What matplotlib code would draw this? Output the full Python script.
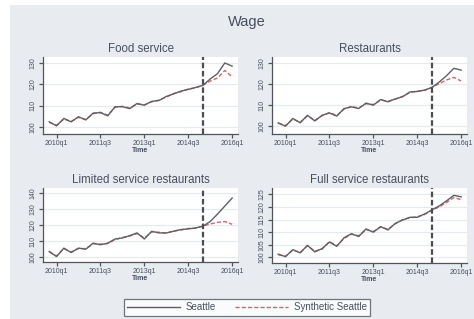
import matplotlib
matplotlib.use("Agg")
import matplotlib.pyplot as plt
from matplotlib.patches import Rectangle
from matplotlib.lines import Line2D

# ---------------- data ----------------
quarters = ["2009q4",
            "2010q1", "2010q2", "2010q3", "2010q4",
            "2011q1", "2011q2", "2011q3", "2011q4",
            "2012q1", "2012q2", "2012q3", "2012q4",
            "2013q1", "2013q2", "2013q3", "2013q4",
            "2014q1", "2014q2", "2014q3", "2014q4",
            "2015q1", "2015q2", "2015q3", "2015q4",
            "2016q1"]
tick_labels = ["2010q1", "2011q3", "2013q1", "2014q3", "2016q1"]
treat_quarter = "2015q1"

food_seattle = [102.4, 100.5, 104.0, 102.4, 104.8, 103.3, 106.5, 106.7, 105.2, 109.5,
                109.5, 108.6, 111.0, 110.2, 112.0, 112.4, 114.3, 115.5, 116.8, 117.6,
                118.5, 119.5, 122.5, 125.0, 130.0, 128.5]
food_synth = [102.2, 100.8, 103.7, 102.6, 104.5, 103.5, 106.2, 106.9, 105.5, 109.2,
              109.7, 108.9, 110.7, 110.4, 111.8, 112.6, 114.0, 115.7, 116.5, 117.8,
              118.3, 119.6, 121.5, 123.0, 126.5, 123.5]

rest_seattle = [101.6, 100.0, 103.7, 101.6, 105.2, 102.5, 105.2, 106.3, 104.8, 108.4,
                109.2, 108.4, 111.0, 110.0, 112.7, 111.6, 113.0, 114.0, 116.3, 116.5,
                117.2, 118.4, 121.0, 124.0, 127.5, 126.7]
rest_synth = [101.4, 100.3, 103.4, 101.9, 104.9, 102.8, 105.0, 106.5, 105.1, 108.1,
              109.4, 108.7, 110.7, 110.3, 112.4, 111.9, 112.8, 114.2, 116.0, 116.7,
              117.0, 118.5, 120.2, 122.0, 123.2, 121.5]

lim_seattle = [103.6, 100.4, 105.7, 102.9, 105.7, 105.0, 108.8, 107.8, 108.8, 111.4,
               112.0, 113.5, 115.2, 111.4, 116.2, 115.2, 115.2, 116.2, 117.3, 117.7,
               118.3, 119.4, 122.3, 127.0, 132.0, 137.0]
lim_synth = [103.3, 100.8, 105.3, 103.3, 105.4, 105.4, 108.4, 108.2, 108.5, 111.0,
             112.4, 113.2, 114.8, 112.0, 115.8, 115.6, 115.0, 116.5, 117.0, 118.0,
             118.1, 119.5, 120.8, 121.8, 122.3, 120.6]

full_seattle = [101.3, 100.3, 103.1, 101.8, 104.8, 102.2, 103.5, 106.1, 104.4, 107.8,
                109.4, 108.3, 111.3, 110.0, 112.2, 110.9, 113.5, 114.8, 115.9, 115.9,
                117.2, 118.8, 120.4, 122.4, 124.6, 124.0]
full_synth = [101.1, 100.5, 102.9, 102.0, 104.6, 102.5, 103.3, 106.3, 104.6, 107.5,
              109.2, 108.6, 111.0, 110.3, 112.0, 111.2, 113.3, 115.0, 115.7, 116.1,
              117.0, 118.7, 120.0, 121.8, 123.7, 122.9]

panel_titles = ["Food service", "Restaurants", "Limited service restaurants", "Full service restaurants"]
food_yticks = [100, 110, 120, 130]
rest_yticks = [100, 110, 120, 130]
lim_yticks = [100, 110, 120, 130, 140]
full_yticks = [100, 105, 110, 115, 120, 125]

# ---------------- style ----------------
W, H = 474, 319
BG = "#e8ecf1"
TXT = "#474f5e"
SEA = "#5c6064"
SYN = "#d4646c"
FONT = ["Liberation Sans", "DejaVu Sans"]
plt.rcParams["font.family"] = FONT

fig = plt.figure(figsize=(W / 100, H / 100), dpi=100)
fig.patch.set_facecolor("white")
fig.add_artist(Rectangle((10 / W, 0), 1 - 10 / W, 1 - 5 / H, transform=fig.transFigure,
                         facecolor=BG, edgecolor="none", zorder=0))


def px_axes(x0, y0, x1, y1):
    return fig.add_axes([x0 / W, 1 - y1 / H, (x1 - x0) / W, (y1 - y0) / H])


xs = list(range(len(quarters)))
tick_pos = [quarters.index(t) for t in tick_labels]
treat_x = quarters.index(treat_quarter)

panels = [
    ((43, 57, 238, 134), food_seattle, food_synth, food_yticks, (96.7, 132.8)),
    ((272, 57, 467, 134), rest_seattle, rest_synth, rest_yticks, (96.3, 132.9)),
    ((43, 188, 238, 262), lim_seattle, lim_synth, lim_yticks, (97.0, 143.3)),
    ((272, 188, 467, 263), full_seattle, full_synth, full_yticks, (97.8, 127.5)),
]

for (rect, sea, syn, yt, ylim), title in zip(panels, panel_titles):
    ax = px_axes(*rect)
    ax.set_facecolor("white")
    ax.set_zorder(2)
    for s in ["top", "right"]:
        ax.spines[s].set_visible(False)
    for s in ["left", "bottom"]:
        ax.spines[s].set_color("#50555c")
        ax.spines[s].set_linewidth(0.9)
    ax.set_xlim(-0.85, 25.8)
    ax.set_ylim(*ylim)
    ax.set_yticks(yt)
    ax.set_yticklabels([str(v) for v in yt], rotation=90, va="center")
    ax.set_xticks(tick_pos)
    ax.set_xticklabels(tick_labels)
    ax.tick_params(axis="both", length=3, width=0.9, color="#50555c",
                   labelsize=5, labelcolor=TXT, pad=1.5)
    ax.grid(axis="y", color="#e3ebee", linewidth=0.8)
    ax.set_axisbelow(True)
    ax.plot(xs, syn, color=SYN, lw=1.0, ls=(0, (3, 1.5)), zorder=3)
    ax.plot(xs, sea, color=SEA, lw=1.0, zorder=4)
    ax.axvline(treat_x, color="#4a4d52", lw=1.6, ls=(0, (2.5, 1.2)), zorder=5)
    ax.set_title(title, fontsize=8.3, color=TXT, pad=3.5)
    ax.set_xlabel("Time", fontsize=5, color=TXT, fontweight="bold")
    ax.xaxis.set_label_coords(0.5, -0.17)

fig.text(247 / W, 1 - 22 / H, "Wage", ha="center", va="center", fontsize=10.5, color=TXT)

# legend
handles = [Line2D([], [], color=SEA, lw=1.0),
           Line2D([], [], color=SYN, lw=1.0, ls=(0, (3, 1.5)))]
leg = fig.legend(handles, ["Seattle", "Synthetic Seattle"], loc="center",
                 bbox_to_anchor=(247 / W, 1 - 307.5 / H), ncol=2, frameon=True,
                 fontsize=7, handlelength=5.4, columnspacing=2.0, handletextpad=0.6,
                 borderpad=0.35, borderaxespad=0.0, fancybox=False, labelcolor=TXT)
leg.get_frame().set_edgecolor("#50555c")
leg.get_frame().set_linewidth(0.9)
leg.get_frame().set_facecolor("white")

fig.savefig("out.png", dpi=100, facecolor=fig.get_facecolor())
